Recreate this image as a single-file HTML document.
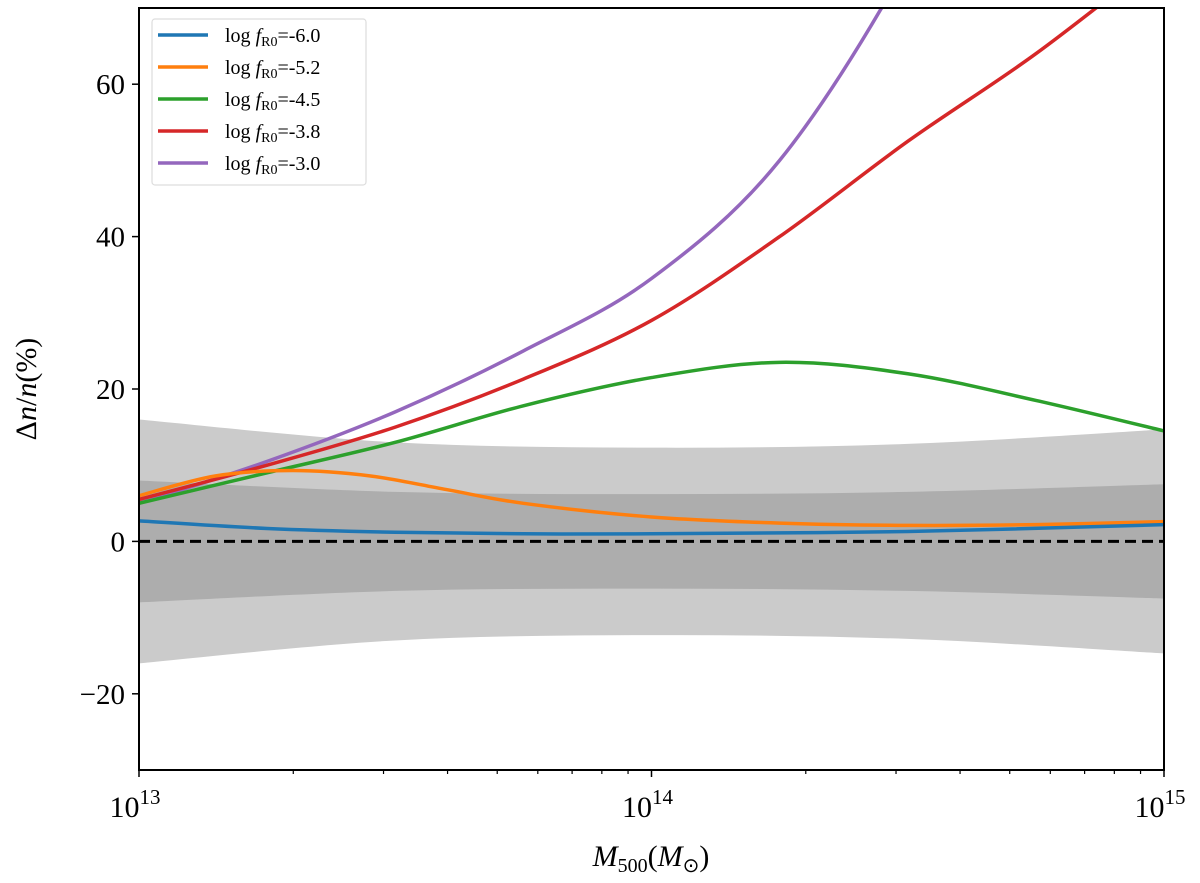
<!DOCTYPE html>
<html><head><meta charset="utf-8"><style>
body{margin:0;background:#fff}
svg text{font-family:"Liberation Serif",serif;fill:#000}
</style></head><body>
<svg id="chart" width="1200" height="878" viewBox="0 0 1200 878" xmlns="http://www.w3.org/2000/svg">
<defs><clipPath id="clip"><rect x="139" y="8" width="1025" height="762"/></clipPath></defs>
<g id="bands" clip-path="url(#clip)"></g>
<g id="lines" clip-path="url(#clip)"></g>
<g id="axes"></g>
</svg>
<script>
const bandX=[13,13.5,14,14.5,15];
const outerBand=[16,13,12.3,12.8,14.7];
const innerBand=[8,6.5,6.2,6.5,7.5];
const seriesNames=["log fR0=-6.0","log fR0=-5.2","log fR0=-4.5","log fR0=-3.8","log fR0=-3.0"];
const seriesColors=["#1f77b4","#ff7f0e","#2ca02c","#d62728","#9467bd"];
const blueX=[13,13.25,13.5,13.75,14,14.5,15];
const blueY=[2.7,1.7,1.2,1.0,1.0,1.3,2.2];
const orangeX=[13,13.15,13.3,13.45,13.6,13.75,14,14.25,14.5,14.75,15];
const orangeY=[6,8.6,9.3,8.6,6.8,5,3.2,2.4,2.1,2.2,2.6];
const greenX=[13,13.25,13.5,13.75,14,14.25,14.5,14.75,15];
const greenY=[5,9,13,17.8,21.5,23.5,22,18.5,14.5];
const redX=[13,13.25,13.5,13.75,14,14.25,14.5,14.75,15];
const redY=[5.5,10,15,21.3,29,40,52.5,64,77];
const purpleX=[13,13.25,13.5,13.75,14,14.25,14.5,14.75];
const purpleY=[5,10.5,17,25,34.5,50,76,110];
const yTicks=[-20,0,20,40,60];
const xTicks=[13,14,15];

const L=139,R=1164,T=8,B=770;
const sx=v=>L+(v-13)/2*(R-L);
const sy=v=>B-(v+30)/100*(B-T);
const NS="http://www.w3.org/2000/svg";
function mk(tag,attrs,parent){const e=document.createElementNS(NS,tag);for(const k in attrs)e.setAttribute(k,attrs[k]);parent.appendChild(e);return e;}
function smooth(pts){let d="M"+pts[0][0]+","+pts[0][1];for(let i=0;i<pts.length-1;i++){const p0=pts[i-1]||pts[i],p1=pts[i],p2=pts[i+1],p3=pts[i+2]||p2;
d+=" C"+(p1[0]+(p2[0]-p0[0])/6)+","+(p1[1]+(p2[1]-p0[1])/6)+" "+(p2[0]-(p3[0]-p1[0])/6)+","+(p2[1]-(p3[1]-p1[1])/6)+" "+p2[0]+","+p2[1];}return d;}
const bands=document.getElementById('bands'),lines=document.getElementById('lines'),axes=document.getElementById('axes');
function band(w,color,name){const top=bandX.map((x,i)=>[sx(x),sy(w[i])]);const bot=bandX.map((x,i)=>[sx(x),sy(-w[i])]).reverse();
const d=smooth(top)+" L"+bot[0][0]+","+bot[0][1]+smooth(bot).replace(/^M[^ ]+/,"")+" Z";
const p=mk('path',{d:d,fill:color},bands);

}
band(outerBand,"#cbcbcb","outer-uncertainty-band");
band(innerBand,"#adadad","inner-uncertainty-band");
const zl=mk('line',{x1:L,x2:R,y1:sy(0),y2:sy(0),stroke:"#000","stroke-width":3,"stroke-dasharray":"11,6"},lines);


const allX=[blueX,orangeX,greenX,redX,purpleX],allY=[blueY,orangeY,greenY,redY,purpleY];
const order=[4,3,2,1,0];
order.forEach(k=>{const pts=allX[k].map((x,i)=>[sx(x),sy(allY[k][i])]);
const p=mk('path',{d:smooth(pts),fill:"none",stroke:seriesColors[k],"stroke-width":3.5},lines);

});
const fr=mk('rect',{x:L,y:T,width:R-L,height:B-T,fill:"none",stroke:"#000","stroke-width":2},axes);


yTicks.forEach(v=>{mk('line',{x1:L-7,x2:L,y1:sy(v),y2:sy(v),stroke:"#000","stroke-width":1.5},axes);
const t=mk('text',{x:L-14,y:sy(v)+10,"text-anchor":"end","font-size":29},axes);t.textContent=(v<0?"\u2212":"")+Math.abs(v);

});
for(let dec=13;dec<15;dec++)for(let m=2;m<=9;m++){const x=sx(dec+Math.log10(m));mk('line',{x1:x,x2:x,y1:B,y2:B+4,stroke:"#000","stroke-width":1.2},axes);}
xTicks.forEach(v=>{mk('line',{x1:sx(v),x2:sx(v),y1:B,y2:B+7,stroke:"#000","stroke-width":1.5},axes);
const t=mk('text',{x:sx(v)-4,y:B+47,"text-anchor":"middle","font-size":30},axes);
t.innerHTML='10<tspan dy="-13" font-size="21">'+v+'</tspan>';

});
const xl=mk('text',{x:651,y:866,"text-anchor":"middle","font-size":30},axes);
xl.innerHTML='<tspan font-style="italic">M</tspan><tspan font-size="20" dy="6">500</tspan><tspan dy="-6">(</tspan><tspan font-style="italic">M</tspan><tspan font-size="20" dy="6">⊙</tspan><tspan dy="-6">)</tspan>';


const yl=mk('text',{x:0,y:0,"text-anchor":"middle","font-size":30,transform:"translate(36,389) rotate(-90)"},axes);
yl.innerHTML='Δ<tspan font-style="italic">n</tspan>/<tspan font-style="italic">n</tspan>(%)';


const lg=mk('g',{},axes);


mk('rect',{x:152,y:19,width:214,height:166,rx:3,fill:"#fff","fill-opacity":0.85,stroke:"#ddd","stroke-width":1.2},lg);
seriesNames.forEach((n,i)=>{const y=35+i*32;
mk('line',{x1:158,x2:208,y1:y,y2:y,stroke:seriesColors[i],"stroke-width":3.5},lg);
const t=mk('text',{x:225,y:y+7,"font-size":20},lg);
t.innerHTML='log <tspan font-style="italic">f</tspan><tspan font-size="14" dy="4">R0</tspan><tspan dy="-4">='+n.split('=')[1]+'</tspan>';

});
</script>
</body></html>
